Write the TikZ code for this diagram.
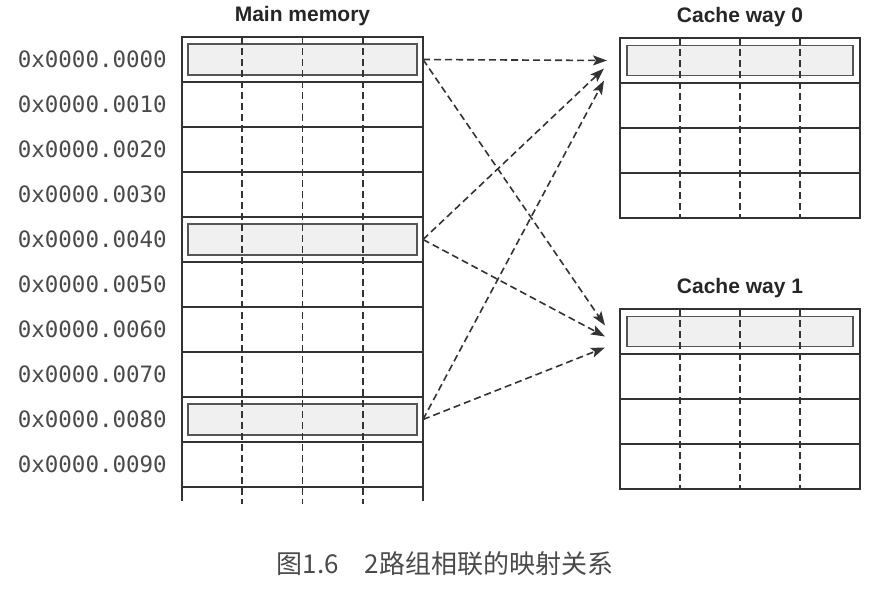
\documentclass[tikz,border=0pt]{standalone}
\usepackage{fontspec}
\setmainfont{Liberation Sans}
\newfontfamily\addrfont{DejaVu Sans Mono}
\newfontfamily\cjkfont{Noto Sans CJK SC}
\usetikzlibrary{positioning,arrows.meta,calc}
\definecolor{framegray}{HTML}{333333}
\definecolor{boxgray}{HTML}{555555}
\definecolor{fillgray}{HTML}{F0F0F0}
\definecolor{textgray}{HTML}{4A4A4A}

\tikzset{
  rowbox/.style={draw=framegray, line width=1.5pt, rectangle, inner sep=0pt, outer sep=0pt, minimum height=45pt},
  memrow/.style={rowbox, minimum width=241pt},
  cacherow/.style={rowbox, minimum width=240pt},
  marked/.style={draw=boxgray, line width=1.8pt, fill=fillgray, inner sep=0pt, minimum height=31pt},
  colsep/.style={draw=framegray, line width=1.6pt, dash pattern=on 7pt off 4pt},
  map/.style={draw=framegray, line width=1.6pt, dash pattern=on 7pt off 4pt, -{Stealth[length=14pt,width=10pt,inset=3pt]}},
  title/.style={font=\fontsize{21}{24}\selectfont\bfseries, text=black!85, inner sep=0pt},
  addr/.style={font=\addrfont\fontsize{22.5}{26}\selectfont, text=textgray, inner sep=0pt, anchor=east},
}

\begin{document}
\begin{tikzpicture}[x=1pt, y=-1pt]
\useasboundingbox (0,0) rectangle (888,590);

% main memory
\node[memrow] (m0) at (302.5,59.5) {};
\node[memrow, below=0pt of m0] (m1) {};
\node[memrow, below=0pt of m1] (m2) {};
\node[memrow, below=0pt of m2] (m3) {};
\node[memrow, below=0pt of m3] (m4) {};
\node[memrow, below=0pt of m4] (m5) {};
\node[memrow, below=0pt of m5] (m6) {};
\node[memrow, below=0pt of m6] (m7) {};
\node[memrow, below=0pt of m7] (m8) {};
\node[memrow, below=0pt of m8] (m9) {};
\draw[framegray, line width=1.5pt] (m9.south west) -- ++(0,14);
\draw[framegray, line width=1.5pt] (m9.south east) -- ++(0,14);

\node[marked, minimum width=229pt] (h0) at (m0) {};
\node[marked, minimum width=229pt] (h4) at (m4) {};
\node[marked, minimum width=229pt] (h8) at (m8) {};

\draw[colsep] ($(m0.north west)!.25!(m0.north east)$) -- ($(m9.south west)!.25!(m9.south east)+(0,17)$);
\draw[colsep] ($(m0.north west)!.5!(m0.north east)$) -- ($(m9.south west)!.5!(m9.south east)+(0,17)$);
\draw[colsep] ($(m0.north west)!.75!(m0.north east)$) -- ($(m9.south west)!.75!(m9.south east)+(0,17)$);

\node[title, above=11pt of m0.north] (tm) {Main memory};

% addresses
\node[addr, left=15pt of m0.west] (a0) {0x0000.0000};
\node[addr, left=15pt of m1.west] (a1) {0x0000.0010};
\node[addr, left=15pt of m2.west] (a2) {0x0000.0020};
\node[addr, left=15pt of m3.west] (a3) {0x0000.0030};
\node[addr, left=15pt of m4.west] (a4) {0x0000.0040};
\node[addr, left=15pt of m5.west] (a5) {0x0000.0050};
\node[addr, left=15pt of m6.west] (a6) {0x0000.0060};
\node[addr, left=15pt of m7.west] (a7) {0x0000.0070};
\node[addr, left=15pt of m8.west] (a8) {0x0000.0080};
\node[addr, left=15pt of m9.west] (a9) {0x0000.0090};

% cache way 0
\node[cacherow] (c0) at (740,60.5) {};
\node[cacherow, below=0pt of c0] (c1) {};
\node[cacherow, below=0pt of c1] (c2) {};
\node[cacherow, below=0pt of c2] (c3) {};
\node[marked, minimum width=226pt, minimum height=30pt] (hc) at (c0) {};
\draw[colsep] ($(c0.north west)!.25!(c0.north east)$) -- ($(c3.south west)!.25!(c3.south east)$);
\draw[colsep] ($(c0.north west)!.5!(c0.north east)$) -- ($(c3.south west)!.5!(c3.south east)$);
\draw[colsep] ($(c0.north west)!.75!(c0.north east)$) -- ($(c3.south west)!.75!(c3.south east)$);
\node[title, above=11pt of c0.north] (tc) {Cache way 0};

% cache way 1
\node[cacherow] (d0) at (740,331.5) {};
\node[cacherow, below=0pt of d0] (d1) {};
\node[cacherow, below=0pt of d1] (d2) {};
\node[cacherow, below=0pt of d2] (d3) {};
\node[marked, minimum width=226pt, minimum height=30pt] (hd) at (d0) {};
\draw[colsep] ($(d0.north west)!.25!(d0.north east)$) -- ($(d3.south west)!.25!(d3.south east)$);
\draw[colsep] ($(d0.north west)!.5!(d0.north east)$) -- ($(d3.south west)!.5!(d3.south east)$);
\draw[colsep] ($(d0.north west)!.75!(d0.north east)$) -- ($(d3.south west)!.75!(d3.south east)$);
\node[title, above=11pt of d0.north] (td) {Cache way 1};

% arrow ends
\coordinate (p0) at ([xshift=-13pt]c0.west);
\coordinate (p1) at ([xshift=-16pt,yshift=-8pt]c0.west);
\coordinate (p2) at ([xshift=-16pt,yshift=-20pt]c0.west);
\coordinate (q0) at ([xshift=-15pt,yshift=6pt]d0.west);
\coordinate (q1) at ([xshift=-15pt,yshift=-5pt]d0.west);
\coordinate (q2) at ([xshift=-15pt,yshift=-16pt]d0.west);

\draw[map] (m0.east) -- (p0);
\draw[map] (m0.east) -- (q0);
\draw[map] (m4.east) -- (p1);
\draw[map] (m4.east) -- (q1);
\draw[map] (m8.east) -- (p2);
\draw[map] (m8.east) -- (q2);

% caption
\node[font=\cjkfont\fontsize{26}{30}\selectfont, text=textgray, inner sep=0pt] (cap) at (445,564) {图1.6　2路组相联的映射关系};
\end{tikzpicture}
\end{document}
